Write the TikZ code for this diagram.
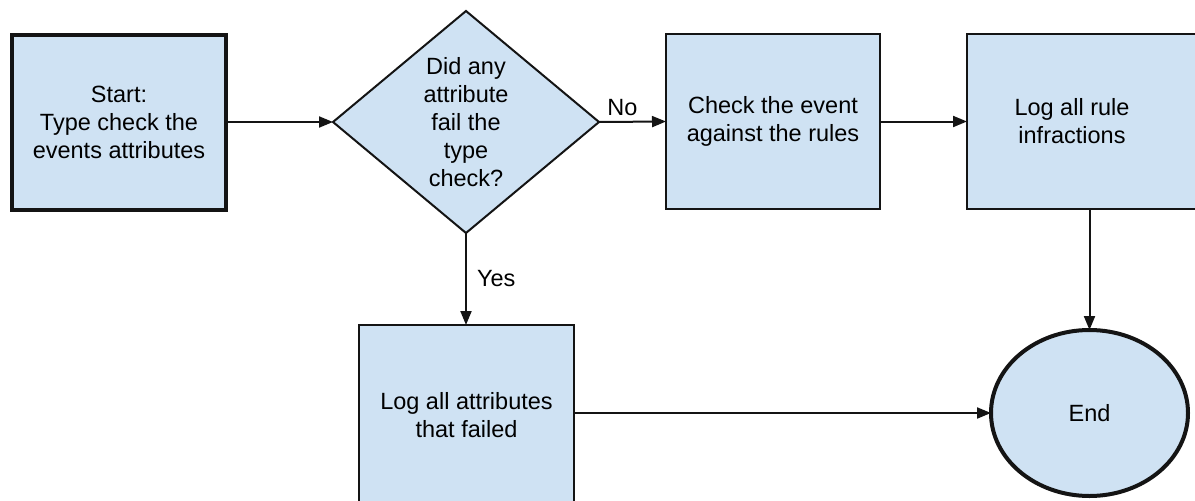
\documentclass[tikz,border=0pt]{standalone}
\usepackage{fontspec}
\setmainfont{Liberation Sans}
\usetikzlibrary{shapes.geometric,arrows.meta}
\definecolor{boxfill}{RGB}{207,226,243}
\definecolor{edge}{RGB}{20,20,20}
\tikzset{
  base/.style={fill=boxfill, draw=edge, align=center, inner sep=0pt, outer sep=0pt,
    font=\fontsize{23.5}{28}\selectfont},
  procbox/.style={base, rectangle, line width=2pt, minimum width=214pt, minimum height=175pt},
  startbox/.style={base, rectangle, line width=4pt, minimum width=214pt, minimum height=175pt},
  decision/.style={base, diamond, line width=2pt, minimum width=266pt, minimum height=222pt},
  endnode/.style={base, ellipse, line width=4pt, minimum width=197pt, minimum height=166pt},
  conn/.style={draw=edge, line width=2pt, -{Triangle[length=14pt,width=11pt]}},
  lbl/.style={font=\fontsize{23.5}{28}\selectfont, inner sep=0pt}
}
\begin{document}
\begin{tikzpicture}[x=1pt,y=-1pt]
\useasboundingbox (0,0) rectangle (1195,501);
\clip (0,0) rectangle (1195,501);
\node[startbox] (start) at (119,122) {Start:\\Type check the\\events attributes};
\node[decision] (dec) at (466,122) {Did any\\attribute\\fail the\\type\\check?};
\node[procbox] (check) at (773,121.5) {Check the event\\against the rules};
\node[procbox, minimum width=250pt,
  label={[lbl,align=center,xshift=-20pt]center:Log all rule\\infractions}] (rules) at (1092,121.5) {};
\node[procbox, minimum width=215pt, minimum height=180pt] (attr) at (466.5,415) {Log all attributes\\that failed};
\node[endnode] (end) at (1089.5,413) {End};
\draw[conn] (start.east) -- (dec.west);
\draw[conn] (dec.east) -- node[lbl, pos=0.35, above=5pt] {No} (check.west);
\draw[conn] (check.east) -- (rules.west |- check.east);
\draw[conn] (rules.south -| end.north) -- (end.north);
\draw[conn] (dec.south) -- node[lbl, pos=0.5, right=10pt] {Yes} (attr.north -| dec.south);
\draw[conn] (attr.east |- end.west) -- (end.west);
\end{tikzpicture}
\end{document}
